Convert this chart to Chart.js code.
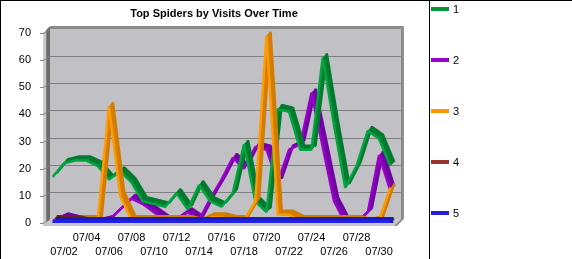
<!DOCTYPE html>
<html>
<head>
<meta charset="utf-8">
<script src="https://cdn.jsdelivr.net/npm/chart.js@4.4.0/dist/chart.umd.min.js"></script>
<style>
  html, body { margin: 0; padding: 0; background: #fff; }
  #wrap { position: relative; width: 572px; height: 259px; }
</style>
</head>
<body>
<div id="wrap"><canvas id="myChart" width="572" height="259"></canvas></div>
<script>
const days = ['07/01', '07/02', '07/03', '07/04', '07/05', '07/06', '07/07', '07/08', '07/09', '07/10',
  '07/11', '07/12', '07/13', '07/14', '07/15', '07/16', '07/17', '07/18', '07/19', '07/20',
  '07/21', '07/22', '07/23', '07/24', '07/25', '07/26', '07/27', '07/28', '07/29', '07/30', '07/31'];

const seriesNames = ['1', '2', '3', '4', '5'];

const spider1 = [17, 22, 23, 23, 21, 16, 19, 15, 8, 7, 6, 11, 5, 14, 8, 6, 11, 29, 8, 4, 42, 41, 27, 27, 61, 36, 13, 21, 34, 31, 21];
const spider2 = [0, 2, 1, 0, 0, 1, 5, 9, 7, 4, 1, 1, 4, 1, 9, 16, 24, 20, 28, 27, 15, 27, 29, 48, 28, 8, 0, 0, 4, 25, 12];
const spider3 = [1, 1, 1, 1, 1, 43, 10, 1, 1, 1, 1, 1, 1, 0, 2, 2, 1, 1, 8, 69, 3, 3, 1, 1, 1, 1, 1, 1, 0, 1, 13];
const spider4 = [1, 1, 1, 0, 0, 0, 0, 0, 0, 0, 0, 0, 0, 0, 0, 0, 0, 0, 0, 0, 0, 0, 0, 0, 0, 0, 0, 0, 0, 0, 0];
const spider5 = [0, 0, 0, 0, 0, 0, 0, 0, 0, 0, 0, 0, 0, 0, 0, 0, 0, 0, 0, 0, 0, 0, 0, 0, 0, 0, 0, 0, 0, 0, 0];

const yTicks = [0, 10, 20, 30, 40, 50, 60, 70];

const legendColors = ['#009933', '#9900cc', '#ff9900', '#993333', '#2222dd'];
const frontColors = ['#00a53e', '#9a00cc', '#ff9a00', '#993333', '#2222e0'];
const sideColors = ['#007a2e', '#7200a4', '#d27c00', '#702222', '#1a1ab8'];

Chart.defaults.font.family = "'Liberation Sans', Arial, sans-serif";
Chart.defaults.font.size = 11;
Chart.defaults.color = '#000';

// 3d box behind the lines: back wall, left wall, floor
const box3d = {
  id: 'box3d',
  beforeDatasetsDraw(chart) {
    const ctx = chart.ctx;
    const { left: L, right: R, top: T, bottom: B } = chart.chartArea;
    const y = chart.scales.y;
    const poly = (pts, color) => {
      ctx.beginPath();
      pts.forEach((p, i) => i ? ctx.lineTo(p[0], p[1]) : ctx.moveTo(p[0], p[1]));
      ctx.closePath();
      ctx.fillStyle = color;
      ctx.fill();
    };
    ctx.save();
    // back wall
    poly([[L + 3, T - 4], [R + 5, T - 4], [R + 5, B - 4], [L + 3, B - 4]], '#c1c0c5');
    // top and right frame of the wall
    poly([[L + 3, T - 7], [R + 8, T - 7], [R + 5, T - 4], [L + 3, T - 4]], '#8a8a8a');
    poly([[R + 5, T - 4], [R + 8, T - 7], [R + 8, B - 4], [R + 1, B + 3], [R - 2, B + 3], [R + 5, B - 4]], '#8a8a8a');
    // gridlines on the wall
    ctx.strokeStyle = '#808080';
    ctx.lineWidth = 1;
    yTicks.forEach(v => {
      const py = Math.round(y.getPixelForValue(v));
      if (v > 0 && v < 70) {
        ctx.beginPath();
        ctx.moveTo(L + 3, py - 4 + 0.5);
        ctx.lineTo(R + 5, py - 4 + 0.5);
        ctx.stroke();
      }
    });
    // left wall
    poly([[L - 1, T - 3], [L + 3, T - 7], [L + 3, B - 4], [L - 1, B]], '#6c6c6c');
    poly([[L - 4, T], [L - 1, T - 3], [L - 1, B + 3], [L - 4, B + 3]], '#cbcbcb');
    // floor
    poly([[L - 4, B + 3], [L + 3, B - 4], [R + 5, B - 4], [R - 2, B + 3]], '#c8c8c8');
    // tick marks and their slant on the left wall
    ctx.strokeStyle = '#808080';
    yTicks.forEach(v => {
      const py = Math.round(y.getPixelForValue(v)) + 0.5;
      ctx.beginPath();
      ctx.moveTo(L - 7, py);
      ctx.lineTo(L - 4, py);
      ctx.lineTo(L + 3, py - 4);
      ctx.stroke();
    });
    ctx.restore();
  }
};

// ribbon depth for each line
const ribbon = {
  id: 'ribbon',
  beforeDatasetDraw(chart, args) {
    const ds = chart.data.datasets[args.index];
    const pts = args.meta.data;
    const d = ds.depth;
    const ctx = chart.ctx;
    ctx.save();
    ctx.fillStyle = ds.sideColor;
    ctx.strokeStyle = ds.sideColor;
    ctx.lineWidth = ds.borderWidth;
    ctx.lineJoin = 'bevel';
    for (let i = 0; i < pts.length - 1; i++) {
      const a = pts[i], b = pts[i + 1];
      ctx.beginPath();
      ctx.moveTo(a.x, a.y);
      ctx.lineTo(b.x, b.y);
      ctx.lineTo(b.x + d, b.y - d);
      ctx.lineTo(a.x + d, a.y - d);
      ctx.closePath();
      ctx.fill();
    }
    ctx.beginPath();
    pts.forEach((p, i) => i ? ctx.lineTo(p.x + d, p.y - d) : ctx.moveTo(p.x + d, p.y - d));
    ctx.stroke();
    ctx.restore();
  }
};

// title, frame lines and legend panel
const frame = {
  id: 'frame',
  afterDraw(chart) {
    const ctx = chart.ctx;
    ctx.save();
    ctx.fillStyle = '#000';
    ctx.font = "bold 11px 'Liberation Sans', Arial, sans-serif";
    ctx.textAlign = 'center';
    ctx.textBaseline = 'middle';
    ctx.fillText('Top Spiders by Visits Over Time', 214, 14);

    ctx.strokeStyle = '#000';
    ctx.lineWidth = 1;
    ctx.beginPath();
    ctx.moveTo(0, 0.5); ctx.lineTo(572, 0.5);
    ctx.moveTo(0.5, 0); ctx.lineTo(0.5, 259);
    ctx.moveTo(429.5, 0); ctx.lineTo(429.5, 259);
    ctx.stroke();

    ctx.font = "11px 'Liberation Sans', Arial, sans-serif";
    ctx.textAlign = 'left';
    seriesNames.forEach((name, i) => {
      const cy = 9 + i * 51;
      ctx.fillStyle = legendColors[i];
      ctx.fillRect(431, cy - 2, 18, 4);
      ctx.fillStyle = '#000';
      ctx.fillText(name, 453, cy + 0.5);
    });
    ctx.restore();
  }
};

const allSeries = [spider1, spider2, spider3, spider4, spider5];
const drawOrder = [3, 4, 2, 1, 0];

const ctx = document.getElementById('myChart').getContext('2d');
const myChart = new Chart(ctx, {
  type: 'line',
  data: {
    labels: days,
    datasets: allSeries.map((vals, i) => ({
      label: seriesNames[i],
      data: vals,
      borderColor: frontColors[i],
      sideColor: sideColors[i],
      borderWidth: i === 4 ? 6 : 2.5,
      depth: i === 4 ? 3 : 4,
      borderJoinStyle: 'bevel',
      tension: 0,
      pointRadius: 0,
      fill: false,
      order: drawOrder[i]
    }))
  },
  options: {
    responsive: false,
    devicePixelRatio: 1,
    animation: false,
    layout: { padding: { left: 0, right: 176.1, top: 33, bottom: 0 } },
    plugins: {
      legend: { display: false },
      tooltip: { enabled: false },
      title: { display: false }
    },
    scales: {
      x: {
        type: 'category',
        offset: true,
        grid: { display: false },
        border: { display: false },
        ticks: {
          autoSkip: false,
          maxRotation: 0,
          minRotation: 0,
          padding: 0.7,
          callback(value, index) {
            if (index % 2 === 0) return '';
            const lab = this.getLabelForValue(value);
            return ((index - 1) / 2) % 2 === 0 ? ['', lab] : lab;
          }
        },
        afterFit(scale) { scale.height = 36; }
      },
      y: {
        min: 0,
        max: 70,
        grid: { display: false },
        border: { display: false },
        ticks: { stepSize: 10, padding: 8 },
        afterFit(scale) { scale.width = 47.1; }
      }
    }
  },
  plugins: [box3d, ribbon, frame]
});
</script>
</body>
</html>
